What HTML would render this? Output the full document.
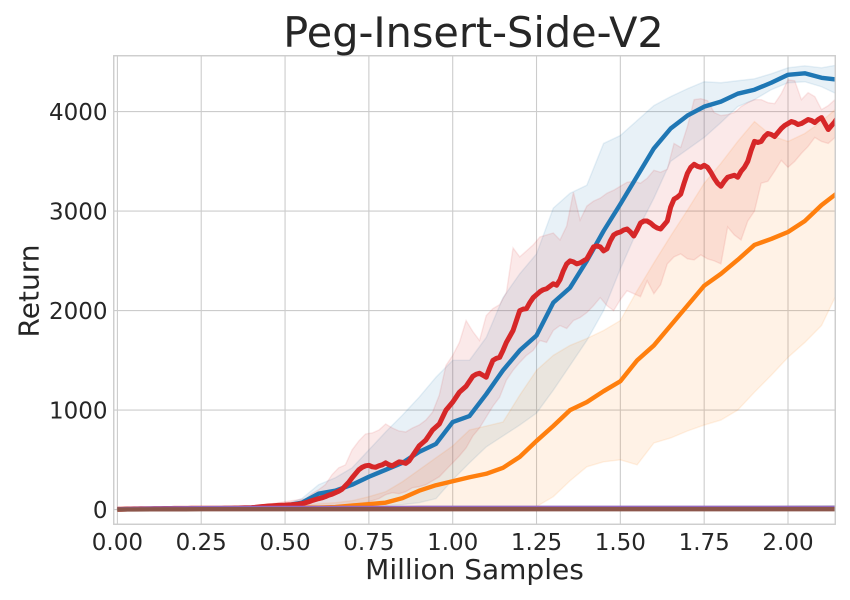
<!DOCTYPE html>
<html>
<head>
<meta charset="utf-8">
<title>Peg-Insert-Side-V2</title>
<style>
html,body{margin:0;padding:0;background:#fff;width:850px;height:600px;overflow:hidden}
svg{display:block}
text{font-family:"DejaVu Sans","Liberation Sans",sans-serif;fill:#262626}
</style>
</head>
<body>
<svg id="chart" width="850" height="600" viewBox="0 0 850 600" xmlns="http://www.w3.org/2000/svg">
<defs><clipPath id="plot-clip"><rect x="114" y="56" width="721" height="468"></rect></clipPath></defs>
<g id="grid"></g>
<g id="bands" clip-path="url(#plot-clip)"></g>
<g id="lines" clip-path="url(#plot-clip)"></g>
<rect x="113.75" y="55.75" width="721.5" height="468.5" fill="none" stroke="#cccccc" stroke-width="1.4"></rect>
<g id="ticks"></g>
<text x="473.5" y="47" text-anchor="middle" font-size="41.4">Peg-Insert-Side-V2</text>
<text x="474.5" y="579" text-anchor="middle" font-size="28">Million Samples</text>
<text transform="translate(38.5,291) rotate(-90)" text-anchor="middle" font-size="28">Return</text>
</svg>
<script>
var xTicks = [0, 0.25, 0.5, 0.75, 1, 1.25, 1.5, 1.75, 2];
var xTickLabels = ["0.00", "0.25", "0.50", "0.75", "1.00", "1.25", "1.50", "1.75", "2.00"];
var yTicks = [0, 1000, 2000, 3000, 4000];
var yTickLabels = ["0", "1000", "2000", "3000", "4000"];

var coarseStep = 0.05;
var redMeanStep = 0.01;
var redBandStep = 0.02;

var blueMean = [3,6,8,10,11,12,13,15,20,30,40,70,160,190,250,330,400,470,580,660,880,940,1160,1400,1600,1750,2080,2230,2500,2800,3070,3350,3630,3830,3960,4050,4100,4180,4220,4290,4370,4385,4340,4320];
var blueUpper = [5,8,10,12,13,14,15,18,25,40,55,110,250,320,420,600,780,950,1130,1330,1500,1500,1730,2130,2370,2570,3030,3180,3260,3680,3760,3910,4060,4150,4230,4300,4290,4310,4330,4380,4440,4460,4440,4470];
var blueLower = [1,2,3,4,5,6,6,7,8,9,10,12,15,20,30,35,40,50,70,110,300,470,630,740,850,970,1200,1450,1700,2000,2420,2800,3130,3500,3620,3740,3890,4050,4120,4220,4290,4300,4250,4170];

var orangeMean = [2,4,5,6,7,8,9,10,12,15,18,20,20,25,40,55,70,115,190,245,285,325,360,420,530,690,840,1000,1080,1190,1290,1500,1650,1850,2050,2250,2370,2510,2660,2720,2790,2900,3060,3190];
var orangeUpper = [4,6,7,8,9,10,11,12,14,20,30,40,60,70,90,130,180,280,400,520,640,800,840,880,1150,1400,1550,1650,1720,1800,1900,2200,2480,2750,3010,3280,3480,3700,3900,3760,3700,3780,3900,4050];
var orangeLower = [0,1,2,2,3,3,4,4,5,5,6,6,7,8,8,9,9,10,10,11,11,12,12,13,15,30,130,290,430,480,500,450,670,720,790,850,900,1000,1180,1350,1530,1680,1850,2200];

var greenMean = [3,6,8,10,11,12,12,13,13,13,14,14,14,14,14,14,14,14,14,14,14,14,14,14,14,14,14,14,14,14,14,14,14,14,14,14,14,14,14,14,15,16,17,18];
var purpleMean = [3,7,10,12,13,14,15,15,16,16,16,17,17,17,17,17,17,17,18,18,18,18,18,18,18,18,18,18,18,18,18,18,18,18,18,18,18,18,18,18,18,18,18,18];
var brownMean = [1,2,3,3,3,4,4,4,4,4,4,4,4,4,4,4,4,4,4,4,4,4,4,4,4,4,4,4,4,4,4,4,4,4,4,4,4,4,4,4,4,4,4,4];

var redMean = [3,4,5,6,6,7,7,8,8,9,
9,10,10,10,11,11,11,12,12,12,
12,12,13,13,13,13,13,14,14,14,
14,14,15,15,15,16,16,17,18,19,
20,22,26,30,33,36,38,40,42,44,
45,47,49,52,55,60,68,78,90,100,
110,118,130,145,155,170,185,205,240,275,
320,360,400,425,440,445,430,425,440,450,
470,450,440,460,480,475,465,490,540,590,
640,670,700,750,800,830,860,930,1000,1040,
1080,1130,1180,1210,1240,1290,1340,1360,1370,1350,
1330,1420,1500,1520,1530,1600,1680,1740,1800,1900,
2000,2015,2020,2080,2130,2160,2190,2210,2220,2245,
2270,2255,2310,2400,2470,2500,2490,2470,2480,2500,
2520,2580,2640,2650,2640,2600,2620,2700,2760,2780,
2790,2810,2820,2790,2750,2810,2880,2900,2900,2880,
2850,2830,2820,2860,2900,3040,3120,3140,3170,3280,
3380,3440,3470,3450,3440,3460,3440,3390,3330,3280,
3250,3300,3340,3350,3360,3340,3400,3440,3500,3610,
3700,3690,3700,3750,3780,3770,3750,3790,3830,3860,
3880,3900,3890,3870,3880,3900,3920,3910,3890,3920,
3940,3880,3820,3860,3900,3950];
var redUpper = [8,8,9,10,11,12,13,14,15,16,16,17,17,18,18,19,19,20,22,25,
32,40,50,60,70,80,90,100,110,160,
200,250,350,420,450,600,690,760,770,800,
860,820,790,780,820,850,900,980,1150,1450,
1550,1680,1900,1790,1700,1950,2020,2060,2180,2630,
2540,2600,2660,2740,2760,2780,2710,2850,3190,2910,
3050,3100,3130,3180,3210,3250,3290,3300,3280,3330,
3410,3390,3420,3680,3640,3850,4120,4130,4110,3990,
3960,3970,3990,4050,4090,4120,4120,4090,4080,4180,
4320,4310,4120,4190,4150,4020,4060,4120];
var redLower = [1,1,2,2,3,3,4,4,4,5,5,5,6,6,6,6,7,7,7,8,
8,9,10,11,12,13,14,15,16,18,
20,25,30,38,45,55,60,70,90,110,
150,170,160,180,220,230,250,290,330,400,
470,540,620,740,820,930,1040,1130,1300,1400,
1480,1550,1600,1700,1680,1800,1850,1820,1900,1930,
1980,2050,2130,2050,2000,2110,2200,2170,2140,2300,
2170,2260,2470,2540,2570,2520,2510,2560,2520,2500,
2470,2840,2760,2710,2900,3000,3280,3300,3400,3510,
3440,3500,3580,3650,3740,3700,3680,3740];

var SVGNS = 'http://www.w3.org/2000/svg';
function xPos(v) { return 117.4 + 335.3 * v; }
function yPos(v) { return 509.6 - 0.0995 * v; }

function pathFrom(values, step) {
  var out = [];
  for (var i = 0; i < values.length; i++) {
    out.push(xPos(i * step).toFixed(2) + ',' + yPos(values[i]).toFixed(2));
  }
  return out;
}

function addLine(values, step, color, width, seriesName) {
  var el = document.createElementNS(SVGNS, 'polyline');
  el.setAttribute('points', pathFrom(values, step).join(' '));
  el.setAttribute('fill', 'none');
  el.setAttribute('stroke', color);
  el.setAttribute('stroke-width', width);
  el.setAttribute('stroke-linejoin', 'round');
  
  
  document.getElementById('lines').appendChild(el);
}

function addBand(upper, lower, step, color, seriesName) {
  var pts = pathFrom(upper, step).concat(pathFrom(lower, step).reverse());
  var el = document.createElementNS(SVGNS, 'polygon');
  el.setAttribute('points', pts.join(' '));
  el.setAttribute('fill', color);
  el.setAttribute('fill-opacity', '0.1');
  el.setAttribute('stroke', color);
  el.setAttribute('stroke-opacity', '0.1');
  el.setAttribute('stroke-width', '1.4');
  
  
  document.getElementById('bands').appendChild(el);
}

function addGridLine(x1, y1, x2, y2, gridName) {
  var el = document.createElementNS(SVGNS, 'line');
  el.setAttribute('x1', x1);
  el.setAttribute('y1', y1);
  el.setAttribute('x2', x2);
  el.setAttribute('y2', y2);
  el.setAttribute('stroke', '#cccccc');
  el.setAttribute('stroke-width', '1.1');
  
  
  document.getElementById('grid').appendChild(el);
}

function addTickLabel(x, y, anchor, label, tickName) {
  var el = document.createElementNS(SVGNS, 'text');
  el.setAttribute('x', x);
  el.setAttribute('y', y);
  el.setAttribute('text-anchor', anchor);
  el.setAttribute('font-size', '23');
  el.textContent = label;
  
  
  document.getElementById('ticks').appendChild(el);
}

xTicks.forEach(function (t, i) {
  addGridLine(xPos(t), 56, xPos(t), 524, 'x-grid-line');
  addTickLabel(xPos(t), 550, 'middle', xTickLabels[i], 'x-tick-label');
});
yTicks.forEach(function (t, i) {
  addGridLine(114, yPos(t), 835, yPos(t), 'y-grid-line');
  addTickLabel(107.5, yPos(t) + 8.5, 'end', yTickLabels[i], 'y-tick-label');
});

addBand(blueUpper, blueLower, coarseStep, '#1f77b4', 'blue-band');
addBand(orangeUpper, orangeLower, coarseStep, '#ff7f0e', 'orange-band');
addBand(redUpper, redLower, redBandStep, '#d62728', 'red-band');

addLine(blueMean, coarseStep, '#1f77b4', 4.4, 'blue-line');
addLine(orangeMean, coarseStep, '#ff7f0e', 4.4, 'orange-line');
addLine(greenMean, coarseStep, '#2ca02c', 4.4, 'green-line');
addLine(redMean, redMeanStep, '#d62728', 5, 'red-line');
addLine(purpleMean, coarseStep, '#9467bd', 4.4, 'purple-line');
addLine(brownMean, coarseStep, '#8c564b', 4.4, 'brown-line');
</script>
</body>
</html>
